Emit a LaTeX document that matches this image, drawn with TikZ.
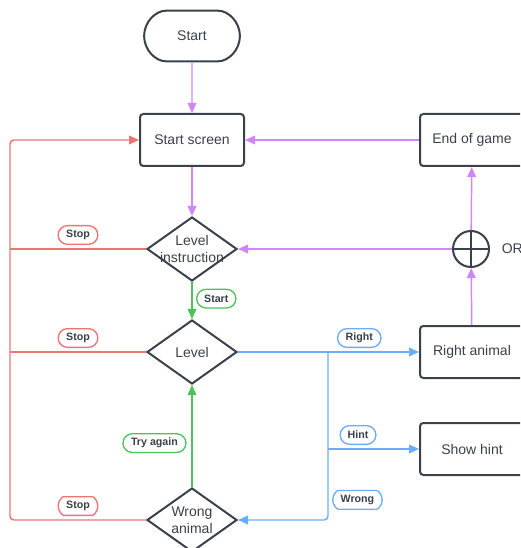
\documentclass[tikz,border=0pt]{standalone}
\usepackage{fontspec}
\setmainfont{Liberation Sans}
\usetikzlibrary{arrows.meta,positioning,shapes.geometric,shapes.misc}
\definecolor{ink}{HTML}{3A414A}
\definecolor{cred}{HTML}{EE7474}
\definecolor{cpurple}{HTML}{CF86FF}
\definecolor{cblue}{HTML}{6AADFF}
\definecolor{cgreen}{HTML}{4DC25A}
\tikzset{
  >={Triangle[length=7.5pt,width=6.5pt]},
  every picture/.style={line width=1.1pt,font=\fontsize{10.5}{12.8}\selectfont},
  bx/.style={draw=ink,line width=1.5pt,fill=white,text=ink,rounded corners=2.5pt,minimum width=78pt,minimum height=39pt,align=center},
  term/.style={bx,rounded rectangle,minimum width=78.5pt,minimum height=38pt},
  dec/.style={diamond,draw=ink,line width=1.5pt,fill=white,text=ink,minimum width=67.5pt,minimum height=48pt,inner sep=0pt,align=center},
  orc/.style={circle,draw=ink,line width=1.5pt,fill=white,minimum size=27pt,inner sep=0pt},
  arr/.style={->,draw=cpurple},
  red/.style={draw=cred},
  blu/.style={draw=cblue},
  grn/.style={->,draw=cgreen},
  lbl/.style={rounded rectangle,fill=white,line width=1pt,text=ink,font=\bfseries\fontsize{8}{9}\selectfont,inner xsep=5pt,inner ysep=1pt,minimum height=14pt},
}
\begin{document}
\begin{tikzpicture}[x=0.75pt,y=-0.75pt]
  \useasboundingbox (0,0) rectangle (520,548);
  \clip (0,0) rectangle (520,548);
  \node[term] (st) at (192,36) {Start};
  \node[bx] (ss) at (192,140) {Start screen};
  \node[dec] (li) at (192,249) {\makebox[0pt]{Level}\\\makebox[0pt]{instruction}};
  \node[dec] (lv) at (192,352) {Level};
  \node[dec] (wa) at (192,520) {\makebox[0pt]{Wrong}\\\makebox[0pt]{animal}};
  \node[bx] (eg) at (472,140) {End of game};
  \node[orc] (or) at (471,249) {};
  \node[right=5pt of or,text=ink] (ort) {OR};
  \node[bx] (ra) at (472,352) {Right animal};
  \node[bx] (sh) at (472,449) {Show hint};
  \coordinate (rt) at (10,140);
  \coordinate (rb) at (10,520);
  \coordinate (bj) at (328,352);
  % OR cross
  \draw[ink,line width=1.5pt] (or.north) -- (or.south) (or.west) -- (or.east);
  % purple flow
  \draw[arr] (st) -- (ss);
  \draw[arr] (ss) -- (li);
  \draw[arr] (eg) -- (ss);
  \draw[arr] (or) -- (li);
  \draw[arr] (or) -- (eg);
  \draw[arr] (ra) -- (or);
  % stops
  \draw[red,->,rounded corners=3pt] (wa.west) -- node[above=3pt,lbl,draw=cred]{Stop} (rb) -- (rt) -- (ss.west);
  \draw[red] (li.west) -- node[above=3pt,lbl,draw=cred]{Stop} (li.west -| rt);
  \draw[red] (lv.west) -- node[above=3pt,lbl,draw=cred]{Stop} (lv.west -| rt);
  % answers
  \draw[blu,->] (lv.east) -- node[pos=0.67,above=3pt,lbl,draw=cblue]{Right} (ra.west);
  \draw[blu,->,rounded corners=3pt] (bj) -- node[pos=0.88,right=3pt,lbl,draw=cblue]{Wrong} (bj |- wa.east) -- (wa.east);
  \draw[blu,->] (bj |- sh.west) -- node[pos=0.33,above=3pt,lbl,draw=cblue]{Hint} (sh.west);
  \draw[grn] (li) -- node[pos=0.45,right=3pt,lbl,draw=cgreen]{Start} (lv);
  \draw[grn] (wa) -- node[pos=0.43,left=4pt,lbl,draw=cgreen]{Try again} (lv);
\end{tikzpicture}
\end{document}
